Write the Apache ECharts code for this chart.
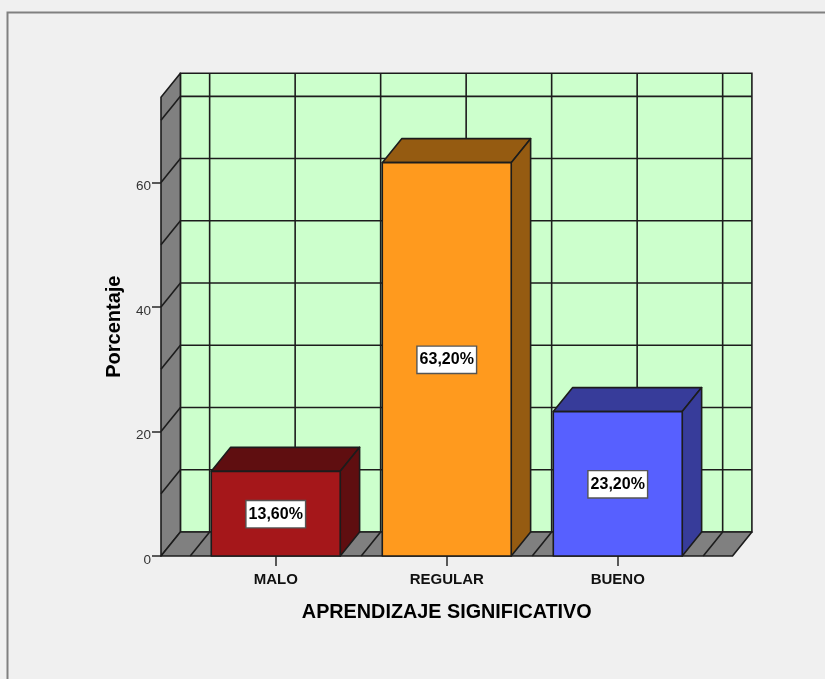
<!DOCTYPE html>
<html>
<head>
<meta charset="utf-8">
<style>html,body{margin:0;padding:0;background:#f0f0f0}#c{width:825px;height:679px}</style>
<script src="https://cdn.jsdelivr.net/npm/echarts@6/dist/echarts.min.js"></script>
</head>
<body>
<div id="c"></div>
<script>
const categories = ['MALO', 'REGULAR', 'BUENO'];
const values = [13.6, 63.2, 23.2];
const valueLabels = ['13,60%', '63,20%', '23,20%'];
const faceColors = ['#A5171A', '#FF9A1E', '#5760FF'];
const sideColors = ['#5F0E10', '#955B11', '#373C9A'];
const yTicks = [0, 20, 40, 60];
const wallLevels = [10, 20, 30, 40, 50, 60, 70];
const wallColumns = [-0.5, 0, 0.5, 1, 1.5, 2, 2.5];
const xMin = -0.671, xMax = 2.671, yMax = 73.7;
const DX = 19.4, DY = -24;
const LINE = '#1c1c1c';

function lineEl(x1, y1, x2, y2, w) {
  return { type: 'line', shape: { x1, y1, x2, y2 }, style: { stroke: LINE, lineWidth: w || 1.6 } };
}
function poly(points, fill) {
  return { type: 'polygon', shape: { points }, style: { fill, stroke: LINE, lineWidth: 1.6, lineJoin: 'round' } };
}

function renderWalls(params, api) {
  const bl = api.coord([xMin, 0]), tl = api.coord([xMin, yMax]);
  const br = api.coord([xMax, 0]);
  const children = [];
  // back wall
  children.push({ type: 'rect', shape: { x: bl[0] + DX, y: tl[1] + DY, width: br[0] - bl[0], height: bl[1] - tl[1] },
    style: { fill: '#CCFFCC', stroke: LINE, lineWidth: 1.6 } });
  // left wall
  children.push(poly([[tl[0], tl[1]], [tl[0] + DX, tl[1] + DY], [bl[0] + DX, bl[1] + DY], [bl[0], bl[1]]], '#808080'));
  // floor
  children.push(poly([[bl[0], bl[1]], [bl[0] + DX, bl[1] + DY], [br[0] + DX, br[1] + DY], [br[0], br[1]]], '#808080'));
  wallLevels.forEach(v => {
    const p = api.coord([xMin, v]);
    children.push(lineEl(p[0], p[1], p[0] + DX, p[1] + DY));
    children.push(lineEl(p[0] + DX, p[1] + DY, br[0] + DX, p[1] + DY));
  });
  wallColumns.forEach(c => {
    const p = api.coord([c, 0]);
    children.push(lineEl(p[0], p[1], p[0] + DX, p[1] + DY));
    children.push(lineEl(p[0] + DX, p[1] + DY, p[0] + DX, tl[1] + DY));
  });
  return { type: 'group', children };
}

function renderBar(params, api) {
  const i = api.value(0), v = api.value(1);
  const half = api.size([0.754, 0])[0] / 2;
  const top = api.coord([i, v]), base = api.coord([i, 0]), mid = api.coord([i, v / 2]);
  const l = top[0] - half, r = top[0] + half;
  return { type: 'group', children: [
    poly([[l, top[1]], [l + DX, top[1] + DY], [r + DX, top[1] + DY], [r, top[1]]], sideColors[i]),
    poly([[r, top[1]], [r + DX, top[1] + DY], [r + DX, base[1] + DY], [r, base[1]]], sideColors[i]),
    poly([[l, top[1]], [r, top[1]], [r, base[1]], [l, base[1]]], faceColors[i]),
    { type: 'text', x: mid[0], y: mid[1] + 0.5, style: {
        text: valueLabels[i], fill: '#000', font: 'bold 16px "Liberation Sans", Arial, sans-serif',
        align: 'center', verticalAlign: 'middle', backgroundColor: '#fff',
        borderColor: '#555', borderWidth: 1.4, padding: [6, 2, 4, 2] } }
  ] };
}

const chart = echarts.init(document.getElementById('c'), null, { renderer: 'canvas' });
chart.setOption({
  animation: false,
  backgroundColor: '#f0f0f0',
  textStyle: { fontFamily: '"Liberation Sans", Arial, sans-serif' },
  graphic: [{
    type: 'polyline', silent: true, z: -1,
    shape: { points: [[7.5, 690], [7.5, 12.5], [840, 12.5]] },
    style: { fill: null, stroke: '#808080', lineWidth: 2 }
  }],
  grid: { left: 161, top: 97.3, width: 571.5, height: 458.7 },
  xAxis: {
    type: 'value', min: xMin, max: xMax,
    splitLine: { show: false },
    axisLine: { show: false, onZero: false },
    axisTick: { show: true, length: 10, customValues: [0, 1, 2], lineStyle: { color: '#333', width: 1.6 } },
    axisLabel: {
      customValues: [0, 1, 2], formatter: v => categories[v], margin: 16,
      color: '#111', fontWeight: 'bold', fontSize: 15
    },
    name: 'APRENDIZAJE SIGNIFICATIVO', nameLocation: 'middle', nameGap: 47,
    nameTextStyle: { color: '#000', fontWeight: 'bold', fontSize: 19.8 }
  },
  yAxis: {
    type: 'value', min: 0, max: yMax,
    splitLine: { show: false },
    axisLine: { show: false, onZero: false },
    axisTick: { show: true, length: 9, customValues: yTicks, lineStyle: { color: '#333', width: 1.6 } },
    axisLabel: { customValues: yTicks, margin: 10, color: '#333', fontSize: 13.5, verticalAlign: 'top', lineHeight: 8 },
    name: 'Porcentaje', nameLocation: 'middle', nameGap: 37, nameRotate: 90,
    nameTextStyle: { color: '#000', fontWeight: 'bold', fontSize: 20 }
  },
  series: [
    { type: 'custom', name: 'walls', renderItem: renderWalls, data: [[0, 0]], silent: true, z: 1, clip: false },
    { type: 'custom', name: 'Porcentaje', renderItem: renderBar, z: 2, clip: false,
      encode: { x: 0, y: 1 },
      data: values.map((v, i) => [i, v]) }
  ]
});
</script>
</body>
</html>
